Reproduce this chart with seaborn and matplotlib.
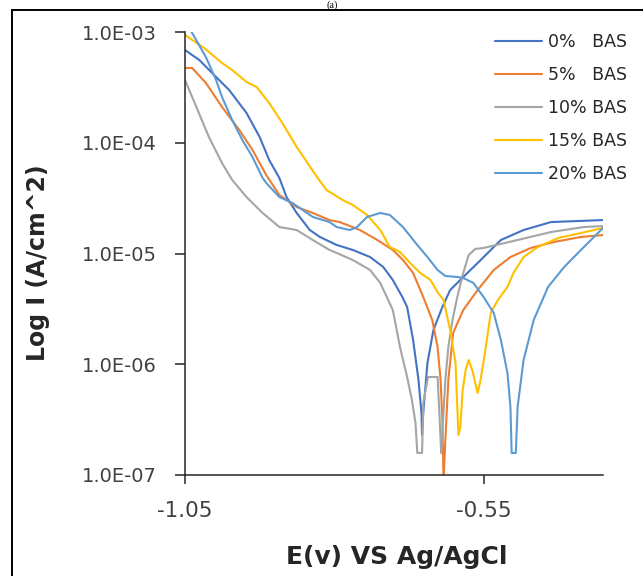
import matplotlib
matplotlib.use("Agg")
import matplotlib.pyplot as plt
from matplotlib.patches import Rectangle
from matplotlib.ticker import FixedLocator, FuncFormatter, NullLocator
import numpy as np
import pandas as pd
import seaborn as sns

# ---- data (potential in V vs Ag/AgCl, log10 of current density in A/cm^2) ----
labels = ["0%   BAS", "5%   BAS", "10% BAS", "15% BAS", "20% BAS"]
colors = ["#4472C4", "#ED7D31", "#A5A5A5", "#FFC000", "#5B9BD5"]

E0 = [-1.050, -1.026, -0.998, -0.976, -0.947, -0.925, -0.909, -0.892, -0.880, -0.863,
      -0.841, -0.824, -0.796, -0.769, -0.740, -0.718, -0.702, -0.686, -0.678, -0.668,
      -0.659, -0.654, -0.653, -0.651, -0.644, -0.634, -0.619, -0.606, -0.589, -0.560,
      -0.521, -0.483, -0.437, -0.350]
L0 = [-3.163, -3.253, -3.406, -3.524, -3.731, -3.948, -4.156, -4.318, -4.490, -4.634,
      -4.788, -4.851, -4.923, -4.968, -5.032, -5.122, -5.239, -5.393, -5.483, -5.781,
      -6.142, -6.440, -6.639, -6.440, -5.989, -5.691, -5.483, -5.330, -5.239, -5.086,
      -4.878, -4.788, -4.716, -4.698]

E5 = [-1.050, -1.038, -1.015, -0.988, -0.959, -0.937, -0.914, -0.892, -0.863, -0.836,
      -0.808, -0.791, -0.757, -0.728, -0.702, -0.685, -0.668, -0.651, -0.636, -0.627,
      -0.622, -0.619, -0.617, -0.614, -0.609, -0.601, -0.584, -0.560, -0.533, -0.505,
      -0.471, -0.432, -0.387, -0.350]
L5 = [-3.325, -3.325, -3.460, -3.677, -3.885, -4.065, -4.291, -4.472, -4.580, -4.634,
      -4.698, -4.716, -4.788, -4.878, -4.968, -5.059, -5.176, -5.393, -5.600, -5.844,
      -6.142, -6.503, -7.050, -6.684, -6.142, -5.718, -5.510, -5.330, -5.149, -5.032,
      -4.950, -4.896, -4.851, -4.833]

E10 = [-1.050, -1.031, -1.010, -0.988, -0.971, -0.947, -0.920, -0.892, -0.863, -0.836,
       -0.808, -0.796, -0.769, -0.740, -0.723, -0.702, -0.690, -0.678, -0.670, -0.664,
       -0.661, -0.653, -0.651, -0.643, -0.627, -0.624, -0.621, -0.614, -0.609, -0.602,
       -0.594, -0.585, -0.575, -0.564, -0.550, -0.493, -0.437, -0.382, -0.350]
L10 = [-3.433, -3.677, -3.948, -4.183, -4.336, -4.490, -4.634, -4.761, -4.788, -4.878,
       -4.968, -4.995, -5.059, -5.149, -5.266, -5.510, -5.844, -6.115, -6.323, -6.531,
       -6.801, -6.801, -6.350, -6.115, -6.115, -6.440, -6.801, -6.142, -5.844, -5.600,
       -5.393, -5.194, -5.014, -4.959, -4.950, -4.878, -4.806, -4.761, -4.752]

E15 = [-1.050, -1.018, -0.988, -0.971, -0.947, -0.930, -0.909, -0.887, -0.863, -0.829,
       -0.813, -0.786, -0.769, -0.745, -0.723, -0.707, -0.690, -0.673, -0.656, -0.639,
       -0.626, -0.617, -0.606, -0.597, -0.594, -0.592, -0.589, -0.585, -0.580, -0.575,
       -0.569, -0.560, -0.555, -0.547, -0.538, -0.526, -0.510, -0.500, -0.483, -0.459,
       -0.425, -0.387, -0.350]
L15 = [-3.027, -3.144, -3.280, -3.343, -3.451, -3.497, -3.641, -3.822, -4.038, -4.309,
       -4.427, -4.517, -4.562, -4.652, -4.788, -4.941, -4.986, -5.086, -5.176, -5.239,
       -5.357, -5.420, -5.691, -5.989, -6.386, -6.639, -6.567, -6.233, -6.052, -5.962,
       -6.052, -6.260, -6.142, -5.871, -5.537, -5.420, -5.302, -5.176, -5.032, -4.941,
       -4.860, -4.815, -4.770]

E20 = [-1.040, -1.015, -0.998, -0.988, -0.971, -0.954, -0.937, -0.920, -0.914, -0.892,
       -0.870, -0.836, -0.808, -0.796, -0.774, -0.762, -0.745, -0.723, -0.707, -0.685,
       -0.661, -0.644, -0.627, -0.614, -0.594, -0.584, -0.567, -0.550, -0.533, -0.521,
       -0.510, -0.505, -0.503, -0.496, -0.493, -0.483, -0.466, -0.442, -0.415, -0.387,
       -0.350]
L20 = [-2.990, -3.226, -3.433, -3.587, -3.795, -3.975, -4.129, -4.318, -4.363, -4.490,
       -4.544, -4.670, -4.716, -4.761, -4.788, -4.761, -4.670, -4.634, -4.652, -4.761,
       -4.923, -5.032, -5.149, -5.203, -5.212, -5.221, -5.266, -5.393, -5.537, -5.781,
       -6.079, -6.386, -6.801, -6.801, -6.386, -5.962, -5.600, -5.302, -5.122, -4.968,
       -4.770]

x_ticks = [-1.05, -0.55]
x_ticklabels = ["-1.05", "-0.55"]
y_ticks = [1e-7, 1e-6, 1e-5, 1e-4, 1e-3]

# ---- build long-form table ----
frames = []
for lab, E, L in zip(labels, [E0, E5, E10, E15, E20], [L0, L5, L10, L15, L20]):
    frames.append(pd.DataFrame({"E": E, "I": np.power(10.0, L), "Sample": lab}))
df = pd.concat(frames, ignore_index=True)

# ---- style ----
sns.set_style("white")
plt.rcParams["font.family"] = ["DejaVu Sans"]
plt.rcParams["axes.unicode_minus"] = False

W, H = 643, 576
fig = plt.figure(figsize=(W / 100, H / 100), dpi=100)
ax = fig.add_axes([185 / W, 1 - 475 / H, 418 / W, 443 / H])

sns.lineplot(data=df, x="E", y="I", hue="Sample", hue_order=labels, palette=colors,
             estimator=None, sort=False, linewidth=1.5, ax=ax)

ax.set_yscale("log")
ax.set_ylim(1e-7, 1e-3)
ax.set_xlim(-1.05, -0.35)

ax.xaxis.set_major_locator(FixedLocator(x_ticks))
ax.set_xticklabels(x_ticklabels)
ax.yaxis.set_major_locator(FixedLocator(y_ticks))
ax.yaxis.set_major_formatter(FuncFormatter(lambda v, p: f"{v:.1E}"))
ax.yaxis.set_minor_locator(NullLocator())
ax.xaxis.set_minor_locator(NullLocator())

for s in ["top", "right"]:
    ax.spines[s].set_visible(False)
for s in ["left", "bottom"]:
    ax.spines[s].set_color("#262626")
    ax.spines[s].set_linewidth(1.1)

ax.tick_params(axis="y", which="major", direction="out", length=7.2, width=1.1,
               color="#262626", pad=13, labelsize=14, labelcolor="#404040", left=True)
ax.tick_params(axis="x", which="major", direction="out", length=6.5, width=1.1,
               color="#262626", pad=12, labelsize=15.5, labelcolor="#404040", bottom=True)

ax.set_xlabel("E(v) VS Ag/AgCl", fontsize=18, fontweight="bold", color="#262626", va="center")
ax.xaxis.set_label_coords((397 - 185) / 418, (475 - 557) / 443)
ax.set_ylabel("Log I (A/cm^2)", fontsize=17, fontweight="bold", color="#262626", va="center")
ax.yaxis.set_label_coords((38 - 185) / 418, (475 - 263) / 443)

handles, labs = ax.get_legend_handles_labels()
leg = ax.legend(handles, labs, loc="upper left", bbox_to_anchor=(495 / W, 1 - 33 / H),
                bbox_transform=fig.transFigure, frameon=False, fontsize=12.5,
                handlelength=2.7, handletextpad=0.35, labelspacing=0.87,
                borderpad=0, borderaxespad=0)
for t in leg.get_texts():
    t.set_color("#262626")
for h in leg.get_lines():
    h.set_linewidth(1.5)

# outer frame and small panel tag at the top
fig.add_artist(Rectangle((12 / W, -0.1), 1.2, 1.1 - 10 / H, transform=fig.transFigure,
                         fill=False, lw=1.4, edgecolor="black", clip_on=False))
fig.text(332 / W, 1 - 0.5 / H, "(a)", ha="center", va="top", fontsize=7.5,
         family=["Liberation Serif", "DejaVu Serif"], color="black")

fig.savefig("out.png", dpi=100, facecolor="white")
